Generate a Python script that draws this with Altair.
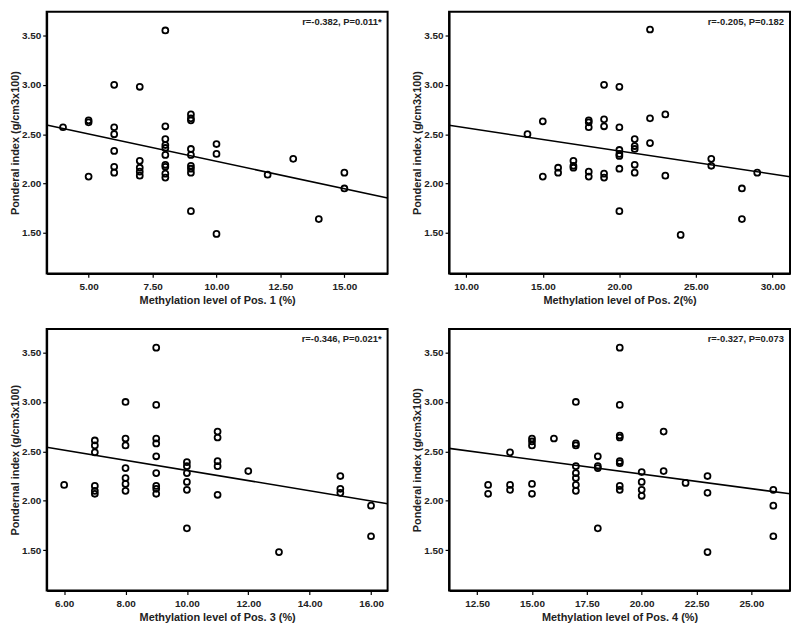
import altair as alt
import pandas as pd

FONT = "Liberation Sans"
Y_DOMAIN = [1.09, 3.74]
Y_TICKS = [1.5, 2.0, 2.5, 3.0, 3.5]

# Panel 1: Pos. 1
x1 = [4, 5, 5, 5, 6, 6, 6, 6, 6, 6, 7, 7, 7, 7, 7,
      8, 8, 8, 8, 8, 8, 8, 8, 8, 8,
      9, 9, 9, 9, 9, 9, 9, 9, 9,
      10, 10, 10, 12, 13, 14, 15, 15]
y1 = [2.57, 2.64, 2.62, 2.07, 3.00, 2.57, 2.50, 2.33, 2.17, 2.11, 2.98, 2.23, 2.16, 2.12, 2.08,
      3.55, 2.58, 2.45, 2.39, 2.36, 2.29, 2.19, 2.17, 2.10, 2.06,
      2.70, 2.66, 2.64, 2.35, 2.29, 2.18, 2.15, 2.11, 1.72,
      2.40, 2.30, 1.49, 2.09, 2.25, 1.64, 2.11, 1.95]

# Panel 2: Pos. 2
x2 = [14, 15, 15, 16, 16, 17, 17, 17,
      18, 18, 18, 18, 18, 19, 19, 19, 19, 19,
      20, 20, 20, 20, 20, 20, 20,
      21, 21, 21, 21, 21, 22, 22, 22, 23, 23,
      24, 26, 26, 28, 28, 29]
y2 = [2.50, 2.63, 2.07, 2.16, 2.11, 2.23, 2.18, 2.16,
      2.64, 2.62, 2.57, 2.12, 2.07, 3.00, 2.65, 2.58, 2.10, 2.06,
      2.98, 2.57, 2.34, 2.30, 2.28, 2.15, 1.72,
      2.45, 2.38, 2.35, 2.19, 2.11, 3.56, 2.66, 2.41, 2.70, 2.08,
      1.48, 2.25, 2.18, 1.95, 1.64, 2.11]

# Panel 3: Pos. 3
x3 = [6, 7, 7, 7, 7, 7, 7,
      8, 8, 8, 8, 8, 8, 8,
      9, 9, 9, 9, 9, 9, 9, 9, 9,
      10, 10, 10, 10, 10, 10,
      11, 11, 11, 11, 11,
      12, 13, 15, 15, 15, 16, 16]
y3 = [2.16, 2.61, 2.56, 2.49, 2.15, 2.10, 2.07,
      3.00, 2.63, 2.56, 2.33, 2.23, 2.17, 2.10,
      3.55, 2.97, 2.63, 2.58, 2.45, 2.28, 2.15, 2.12, 2.07,
      2.39, 2.35, 2.28, 2.19, 2.11, 1.72,
      2.70, 2.64, 2.40, 2.35, 2.06,
      2.30, 1.48, 2.25, 2.12, 2.08, 1.95, 1.64]

# Panel 4: Pos. 4
x4 = [13, 13, 14, 14, 14, 15, 15, 15, 15, 15, 16,
      17, 17, 17, 17, 17, 17, 17, 17,
      18, 18, 18, 18,
      19, 19, 19, 19, 19, 19, 19, 19,
      20, 20, 20, 20, 21, 21, 22, 23, 23, 23, 26, 26, 26]
y4 = [2.16, 2.07, 2.49, 2.16, 2.11, 2.63, 2.60, 2.56, 2.17, 2.07, 2.63,
      3.00, 2.58, 2.56, 2.35, 2.28, 2.23, 2.16, 2.10,
      2.45, 2.35, 2.33, 1.72,
      3.55, 2.97, 2.66, 2.64, 2.40, 2.38, 2.15, 2.11,
      2.29, 2.19, 2.11, 2.05, 2.70, 2.30, 2.18, 2.25, 2.08, 1.48, 2.11, 1.95, 1.64]

x_titles = ["Methylation level of Pos. 1 (%)", "Methylation level of Pos. 2(%)",
            "Methylation level of Pos. 3 (%)", "Methylation level of Pos. 4 (%)"]
y_titles = ["Ponderal index (g/cm3x100)", "Ponderal index (g/cm3x100)",
            "Pondernal index (g/cm3x100)", "Ponderal index (g/cm3x100)"]
notes = ["r=-0.382, P=0.011*", "r=-0.205, P=0.182", "r=-0.346, P=0.021*", "r=-0.327, P=0.073"]
x_domains = [[3.36, 16.69], [8.88, 31.14], [5.43, 16.54], [11.22, 26.76]]
x_ticks = [[5, 7.5, 10, 12.5, 15], [10, 15, 20, 25, 30],
           [6, 8, 10, 12, 14, 16], [12.5, 15, 17.5, 20, 22.5, 25]]

W, H = 344, 264

AX = dict(grid=False, format=".2f", domainColor="black", domainWidth=2,
          tickColor="black", tickSize=4, tickWidth=1.2,
          labelFont=FONT, labelFontWeight="bold", labelFontSize=10, labelColor="#222",
          titleFont=FONT, titleFontWeight="bold", titleFontSize=11, titleColor="#222")


def panel(xs, ys, domain, ticks, xtitle, ytitle, note):
    df = pd.DataFrame({"x": xs, "y": ys})
    base = alt.Chart(df)
    xenc = alt.X("x:Q", scale=alt.Scale(domain=domain, nice=False, zero=False),
                 axis=alt.Axis(values=ticks, title=xtitle, labelPadding=4,
                               titlePadding=3, **AX))
    yenc = alt.Y("y:Q", scale=alt.Scale(domain=Y_DOMAIN, nice=False, zero=False),
                 axis=alt.Axis(values=Y_TICKS, title=ytitle, labelPadding=2,
                               titlePadding=1, **AX))
    pts = base.mark_point(shape="circle", filled=False, color="black", opacity=1,
                          size=36, strokeWidth=1.8).encode(x=xenc, y=yenc)
    line = base.transform_regression("x", "y", extent=domain).mark_line(
        color="black", strokeWidth=1.6, clip=True).encode(x="x:Q", y="y:Q")
    txt = alt.Chart(pd.DataFrame({"t": [note]})).mark_text(
        align="right", baseline="middle", fontSize=9.5, fontWeight="bold",
        font=FONT, color="#222").encode(x=alt.value(W - 6), y=alt.value(10), text="t:N")
    return alt.layer(pts, line, txt).properties(width=W, height=H)


p = [panel(x, y, d, t, xt, yt, n) for x, y, d, t, xt, yt, n in
     zip([x1, x2, x3, x4], [y1, y2, y3, y4], x_domains, x_ticks, x_titles, y_titles, notes)]

chart = alt.vconcat(
    alt.hconcat(p[0], p[1], spacing=22),
    alt.hconcat(p[2], p[3], spacing=22),
    spacing=22,
).properties(
    padding={"left": 0, "top": 0, "right": 0, "bottom": 0},
    background="white",
).configure_view(
    stroke="#000000", strokeWidth=2, strokeOpacity=1
)

chart.save("out.html", embed_options={"renderer": "svg", "actions": False})
